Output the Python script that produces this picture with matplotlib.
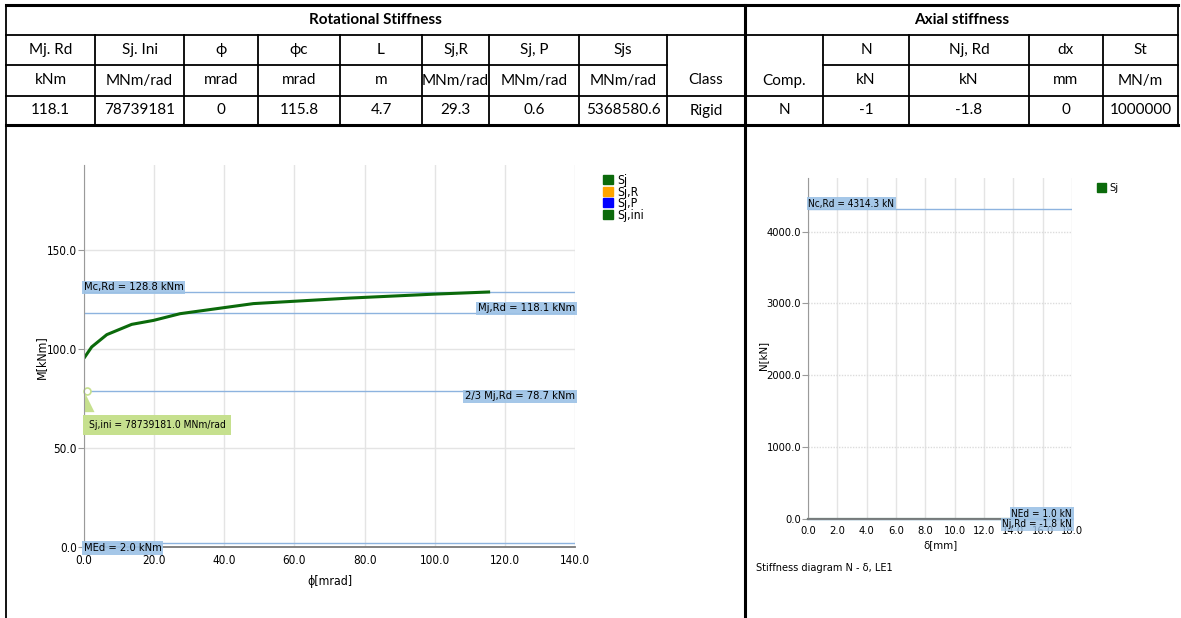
import matplotlib.pyplot as plt
from matplotlib import font_manager
from matplotlib.patches import Patch, Polygon
from matplotlib.ticker import FormatStrFormatter, MultipleLocator

W, H = 1181, 618

TABLE_FONT = ["Lato", "DejaVu Sans"]

# Chart labels use a narrow sans; pick whichever narrow face is installed
installed = font_manager.fontManager.ttflist
if any(f.name == "Liberation Sans Narrow" for f in installed):
    CHART_FONT, CHART_STRETCH, FS = ["Liberation Sans Narrow", "DejaVu Sans"], "normal", 1.1
elif any(f.name == "DejaVu Sans" and f.stretch == "condensed" for f in installed):
    CHART_FONT, CHART_STRETCH, FS = ["DejaVu Sans"], "condensed", 1.0
else:
    CHART_FONT, CHART_STRETCH, FS = ["Liberation Sans", "DejaVu Sans"], "normal", 0.98
plt.rcParams["font.family"] = CHART_FONT
plt.rcParams["font.stretch"] = CHART_STRETCH

# ---- table contents ----
rot_headers = ["Mj. Rd", "Sj. Ini", "ϕ", "ϕc", "L", "Sj,R", "Sj, P", "Sjs"]
rot_units = ["kNm", "MNm/rad", "mrad", "mrad", "m", "MNm/rad", "MNm/rad", "MNm/rad"]
rot_values = ["118.1", "78739181", "0", "115.8", "4.7", "29.3", "0.6", "5368580.6"]
rot_class = "Rigid"
ax_headers = ["N", "Nj, Rd", "dx", "St"]
ax_units = ["kN", "kN", "mm", "MN/m"]
ax_values = ["-1", "-1.8", "0", "1000000"]
ax_comp = "N"

# ---- rotational stiffness diagram ----
sj_phi = [0.0, 2.2, 6.5, 13.6, 19.8, 27.4, 48.3, 75.8, 100.0, 115.8]
sj_m = [95.5, 101.2, 107.4, 112.6, 114.6, 118.0, 123.1, 125.9, 127.9, 129.0]
sjr_phi, sjr_m = [0.0, 0.07], [0.0, 2.0]
sjp_phi, sjp_m = [0.0, 3.3], [0.0, 2.0]
m_c_rd = 128.8
m_j_rd = 118.1
m_j_rd_23 = 78.7
m_ed = 2.0
sj_ini = 78739181.0
phi_max = 140.0
m_max = 193.2

# ---- axial stiffness diagram ----
n_c_rd = 4314.3
n_ed = 1.0
n_j_rd = -1.8
sj_axial_delta = [0.0, 18.0]
sj_axial_n = [0.0, 0.0]
delta_max = 18.0
n_max = 4745.7

LIMIT_COLOR = "#8db3df"
BOX = dict(boxstyle="square,pad=0.15", fc="#9ec3e6", ec="none", alpha=0.92)


def px_axes(fig, x0, y0, x1, y1):
    return fig.add_axes([x0 / W, 1 - y1 / H, (x1 - x0) / W, (y1 - y0) / H])


fig = plt.figure(figsize=(W / 100, H / 100), dpi=100)

# Table drawn on a full-figure overlay in pixel units
tab = fig.add_axes([0, 0, 1, 1])
tab.set_xlim(0, W)
tab.set_ylim(H, 0)
tab.axis("off")

cols = [6, 95, 184, 258, 340, 422, 489, 579, 667, 745, 823, 909, 1029, 1103, 1178]
rows = [5, 35, 65, 96, 125]
thin, thick = 1.3, 2.2

tab.plot([6, 1178], [rows[0]] * 2, color="black", lw=thick)
tab.plot([6, 1178], [rows[1]] * 2, color="black", lw=thin)
tab.plot([6, 667], [rows[2]] * 2, color="black", lw=thin)
tab.plot([823, 1178], [rows[2]] * 2, color="black", lw=thin)
tab.plot([6, 1178], [rows[3]] * 2, color="black", lw=thin)
tab.plot([6, 1178], [rows[4]] * 2, color="black", lw=thick)
tab.plot([6, 6], [rows[0], H], color="black", lw=thin)
tab.plot([745, 745], [rows[0], H], color="black", lw=thick)
tab.plot([1178, 1178], [rows[0], rows[4]], color="black", lw=thin)
for x in cols[1:-1]:
    if x != 745:
        tab.plot([x, x], [rows[1], rows[4]], color="black", lw=thin)

row_mid = [(a + b) / 2 for a, b in zip(rows[:-1], rows[1:])]
tkw = dict(ha="center", va="center", family=TABLE_FONT, fontstretch="normal",
           fontsize=11, color="black")
tab.text((6 + 745) / 2, row_mid[0], "Rotational Stiffness", fontweight="bold", **tkw)
tab.text((745 + 1178) / 2, row_mid[0], "Axial stiffness", fontweight="bold", **tkw)

rot_centers = [(a + b) / 2 for a, b in zip(cols[:8], cols[1:9])]
for cx, h, u, v in zip(rot_centers, rot_headers, rot_units, rot_values):
    tab.text(cx, row_mid[1], h, **tkw)
    tab.text(cx, row_mid[2], u, **tkw)
    tab.text(cx, row_mid[3], v, **tkw)
tab.text((667 + 745) / 2, row_mid[2], "Class", **tkw)
tab.text((667 + 745) / 2, row_mid[3], rot_class, **tkw)

tab.text((745 + 823) / 2, row_mid[2], "Comp.", **tkw)
tab.text((745 + 823) / 2, row_mid[3], ax_comp, **tkw)
axial_centers = [(a + b) / 2 for a, b in zip(cols[10:14], cols[11:15])]
for cx, h, u, v in zip(axial_centers, ax_headers, ax_units, ax_values):
    tab.text(cx, row_mid[1], h, **tkw)
    tab.text(cx, row_mid[2], u, **tkw)
    tab.text(cx, row_mid[3], v, **tkw)


def style_axes(ax, fs):
    for side in ("top", "right"):
        ax.spines[side].set_visible(False)
    ax.spines["left"].set_color("#9a9a9a")
    ax.spines["bottom"].set_color("#7a7a7a")
    ax.spines["bottom"].set_linewidth(1.3)
    ax.set_axisbelow(True)
    ax.tick_params(axis="y", length=4, width=0.8, color="#9a9a9a", pad=1, labelsize=fs)
    ax.tick_params(axis="x", length=0, pad=5, labelsize=fs)
    ax.xaxis.set_major_formatter(FormatStrFormatter("%.1f"))
    ax.yaxis.set_major_formatter(FormatStrFormatter("%.1f"))


# Moment-rotation diagram
ax1 = px_axes(fig, 84, 165, 575, 547)
ax1.set_xlim(0, phi_max)
ax1.set_ylim(0, m_max)
ax1.xaxis.set_major_locator(MultipleLocator(20))
ax1.yaxis.set_major_locator(MultipleLocator(50))
ax1.grid(color="#e4e4e4", lw=1)
style_axes(ax1, 8.4 * FS)

for level in (m_c_rd, m_j_rd, m_j_rd_23, m_ed):
    ax1.axhline(level, color=LIMIT_COLOR, lw=1)
ax1.plot(sj_phi, sj_m, color="#0b6a0b", lw=2.2, solid_capstyle="butt")
ax1.plot(sjr_phi, sjr_m, color="orange", lw=1.2, clip_on=False)
ax1.plot(sjp_phi, sjp_m, color="#1f3fd6", lw=1.2, clip_on=False)

lfs = 8.0 * FS
ax1.text(0, m_c_rd, f"Mc,Rd = {m_c_rd:.1f} kNm", ha="left", va="bottom", fontsize=lfs, bbox=BOX)
ax1.text(phi_max, m_j_rd, f"Mj,Rd = {m_j_rd:.1f} kNm", ha="right", va="bottom", fontsize=lfs, bbox=BOX)
ax1.text(phi_max, m_j_rd_23, f"2/3 Mj,Rd = {m_j_rd_23:.1f} kNm", ha="right", va="top", fontsize=lfs, bbox=BOX)
ax1.text(0, m_ed, f"MEd = {m_ed:.1f} kNm", ha="left", va="top", fontsize=lfs, bbox=BOX, clip_on=False)

# Sj,ini callout
ax1.plot([0.8], [m_j_rd_23], marker="o", ms=5, mfc="white", mec="#c6e08e", mew=1.2, clip_on=False)
ax1.add_patch(Polygon([[0.4, 77.5], [0.0, 68.2], [3.0, 68.2]], closed=True, fc="#c6e08e", ec="none", clip_on=False))
ax1.text(1.3, 61.8, f"Sj,ini = {sj_ini:.1f} MNm/rad", ha="left", va="center", fontsize=7.4 * FS,
         bbox=dict(boxstyle="square,pad=0.5", fc="#c6e08e", ec="none"))

ax1.set_xlabel("ϕ[mrad]", fontsize=8.8 * FS, labelpad=6)
fig.text(41 / W, 1 - 357 / H, "M[kNm]", rotation=90, ha="center", va="center", fontsize=8.8 * FS)

legend_items = [Patch(color="#0b6a0b", label="Sj"), Patch(color="orange", label="Sj,R"),
                Patch(color="blue", label="Sj,P"), Patch(color="#0b6a0b", label="Sj,ini")]
ax1.legend(handles=legend_items, loc="upper left", bbox_to_anchor=(603 / W, 1 - 174 / H),
           bbox_transform=fig.transFigure, frameon=False, fontsize=8.8 * FS, handlelength=0.8,
           handleheight=0.8, handletextpad=0.35, labelspacing=-0.12, borderpad=0, borderaxespad=0)

# Axial force-deformation diagram
ax2 = px_axes(fig, 808, 178, 1072, 519)
ax2.set_xlim(0, delta_max)
ax2.set_ylim(0, n_max)
ax2.xaxis.set_major_locator(MultipleLocator(2))
ax2.yaxis.set_major_locator(MultipleLocator(1000))
ax2.grid(axis="x", color="#e4e4e4", lw=1)
ax2.grid(axis="y", color="#dcdcdc", lw=1, ls=(0, (1, 1)))
style_axes(ax2, 8.0 * FS)

sfs = 7.2 * FS
ax2.axhline(n_c_rd, color=LIMIT_COLOR, lw=1)
ax2.plot(sj_axial_delta, sj_axial_n, color="#3c6f63", lw=1.6, clip_on=False)
ax2.axhline(n_ed, color=LIMIT_COLOR, lw=1)
ax2.axhline(n_j_rd, color=LIMIT_COLOR, lw=1, clip_on=False)

ax2.text(0, n_c_rd, f"Nc,Rd = {n_c_rd:.1f} kN", ha="left", va="bottom", fontsize=sfs, bbox=BOX)
ax2.text(delta_max, n_ed, f"NEd = {n_ed:.1f} kN", ha="right", va="bottom", fontsize=sfs, bbox=BOX, zorder=5)
ax2.text(delta_max, n_j_rd, f"Nj,Rd = {n_j_rd:.1f} kN", ha="right", va="top", fontsize=sfs,
         bbox=dict(BOX, alpha=0.8), clip_on=False, zorder=5)

ax2.set_xlabel("δ[mm]", fontsize=8.2 * FS, labelpad=3)
fig.text(763 / W, 1 - 355 / H, "N[kN]", rotation=90, ha="center", va="center", fontsize=8.2 * FS)
fig.text(756 / W, 1 - 568 / H, "Stiffness diagram N - δ, LE1", ha="left", va="center", fontsize=7.8 * FS)

ax2.legend(handles=[Patch(color="#0b6a0b", label="Sj")], loc="upper left",
           bbox_to_anchor=(1097 / W, 1 - 183 / H), bbox_transform=fig.transFigure,
           frameon=False, fontsize=8.0 * FS, handlelength=0.8, handleheight=0.8,
           handletextpad=0.35, borderpad=0, borderaxespad=0)

fig.savefig("out.png", dpi=100)
